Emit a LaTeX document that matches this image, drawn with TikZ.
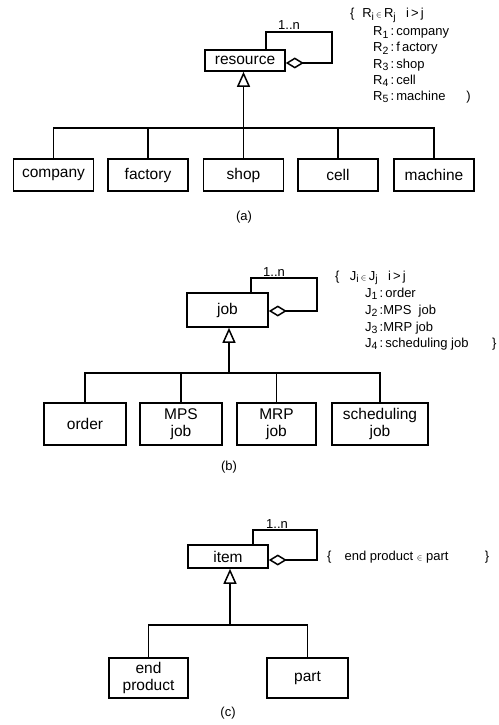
\documentclass[tikz,border=0pt]{standalone}
\usepackage{fontspec}
\setmainfont{Liberation Sans}
\usetikzlibrary{arrows.meta}
% lowered index used in the constraint notes
\newcommand{\ix}[1]{\raisebox{-0.3ex}{\fontsize{10.5}{10.5}\selectfont #1}}
\newcommand{\inrel}{{\footnotesize$\in$}}
\begin{document}
\begin{tikzpicture}[x=1pt,y=-1pt,
  cls/.style={draw, line width=1.6pt, minimum width=80pt, inner sep=0pt,
              font=\fontsize{15.5}{17}\selectfont, align=center},
  ann/.style={anchor=base west, inner sep=0pt, font=\fontsize{13}{14}\selectfont},
  mult/.style={anchor=base, inner sep=0pt, font=\fontsize{13}{14}\selectfont},
  sublabel/.style={inner sep=0pt, font=\fontsize{13}{14}\selectfont},
  wire/.style={line width=1.6pt},
  gen/.style={wire, -{Triangle[open, length=15pt, width=13pt, line width=1.5pt]}},
  aggr/.style={wire, -{Diamond[open, length=18pt, width=11pt, line width=1.5pt]}},
]
\useasboundingbox (0,0) rectangle (498,725);

%% (a) resource hierarchy
\node[cls, minimum height=21pt] (resource) at (245,60.5) {resource};
\foreach \n/\x/\t in {company/53.5/company, factory/148/factory, shop/243.5/shop,
                      cell/338/cell, machine/434/machine}
  \node[cls, minimum height=32pt] (\n) at (\x,175) {\t};
\coordinate (busA) at (243.5,128);
\draw[wire] (company.north) |- (busA) -| (machine.north);
\foreach \n in {factory, shop, cell}
  \draw[wire] (\n.north) -- (\n.north |- busA);
\draw[gen] (busA) -- (busA |- resource.south);
\coordinate (loopA) at (332,32);
\draw[aggr] ([xshift=21pt]resource.north) |- (loopA) |- ([yshift=-2.5pt]resource.east);
\node[mult] (multA) at (289,30) {1..n};
\node[ann] (ra0) at (350,18) {\{\hspace{0.6em}R\ix{i}\,\inrel\,R\ix{j}\hspace{0.8em}i\,>\,j};
\node[ann] (ra1) at (373,36) {R\ix{1}\,:\,company};
\node[ann] (ra2) at (373,52) {R\ix{2}\,:\,f\,actory};
\node[ann] (ra3) at (373,68.5) {R\ix{3}\,:\,shop};
\node[ann] (ra4) at (373,84.5) {R\ix{4}\,:\,cell};
\node[ann] (ra5) at (373,100.5) {R\ix{5}\,:\,machine\hspace{1.6em})};
\node[sublabel] (capA) at (244,217) {(a)};

%% (b) job hierarchy
\node[cls, minimum width=81pt, minimum height=34pt] (job) at (227.5,310) {job};
\node[cls, minimum width=82pt, minimum height=42pt] (order) at (85,424) {order};
\node[cls, minimum width=82pt, minimum height=42pt] (mps) at (181,424) {MPS\\job};
\node[cls, minimum width=79pt, minimum height=42pt] (mrp) at (276.5,424) {MRP\\job};
\node[cls, minimum width=96pt, minimum height=42pt] (sched) at (380,424) {scheduling\\job};
\coordinate (busB) at (229,373);
\draw[wire] (order.north) |- (busB) -| (sched.north);
\foreach \n in {mps, mrp}
  \draw[wire] (\n.north) -- (\n.north |- busB);
\draw[gen] (busB) -- (busB |- job.south);
\coordinate (loopB) at (317,278);
\draw[aggr] ([xshift=23.5pt]job.north) |- (loopB) |- ([yshift=-1pt]job.east);
\node[mult] (multB) at (274,276) {1..n};
\node[ann] (jb0) at (335,280) {\{\hspace{0.8em}J\ix{i}\,\inrel\,J\ix{j}\hspace{0.8em}i\,>\,j};
\node[ann] (jb1) at (365,297) {J\ix{1}\,:\,order};
\node[ann] (jb2) at (365,314) {J\ix{2}\,:MPS\ \ job};
\node[ann] (jb3) at (365,331) {J\ix{3}\,:MRP job};
\node[ann] (jb4) at (365,347.5) {J\ix{4}\,:\,scheduling job};
\node[ann] (jb5) at (492,347.5) {\}};
\node[sublabel] (capB) at (229,467) {(b)};

%% (c) item hierarchy
\node[cls, minimum height=23pt] (item) at (228,556.5) {item};
\node[cls, minimum width=79pt, minimum height=40pt] (endprod) at (148.5,678) {end\\product};
\node[cls, minimum width=81pt, minimum height=40pt] (part) at (307.5,678) {part};
\coordinate (busC) at (230,625);
\draw[wire] (endprod.north) |- (busC) -| (part.north);
\draw[gen] (busC) -- (busC |- item.south);
\coordinate (loopC) at (317,530);
\draw[aggr] ([xshift=25pt]item.north) |- (loopC) |- ([yshift=-3.5pt]item.east);
\node[mult] (multC) at (277,528) {1..n};
\node[ann] (ic0) at (327,560) {\{\hspace{1em}end product \inrel\ part\hspace{2.8em}\}};
\node[sublabel] (capC) at (228,713) {(c)};
\end{tikzpicture}
\end{document}
